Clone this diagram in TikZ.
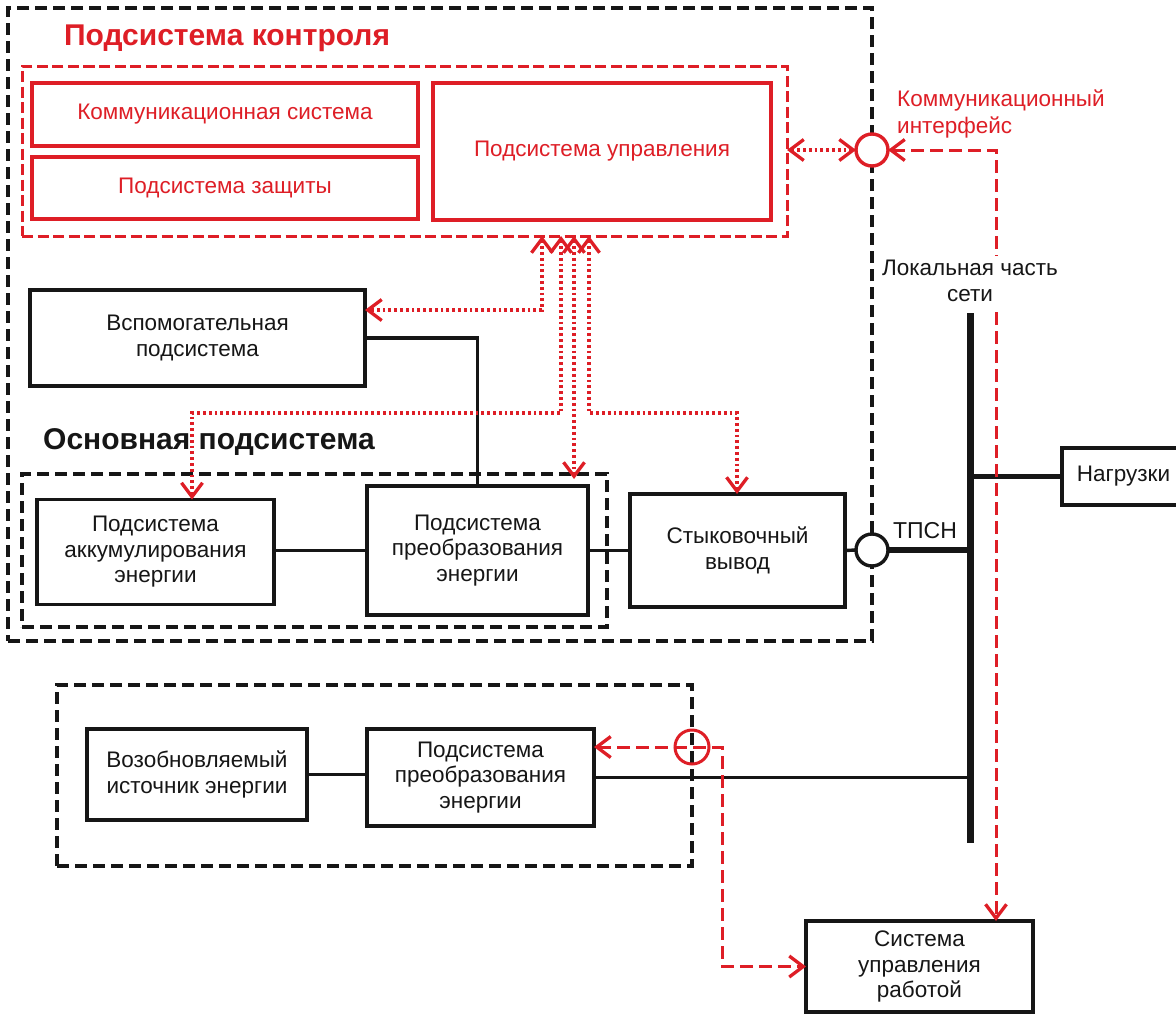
\documentclass[tikz,border=0pt]{standalone}
\usepackage{fontspec}
\setmainfont{Liberation Sans}
\usetikzlibrary{arrows.meta,calc}
\definecolor{ared}{RGB}{222,30,38}
\definecolor{ink}{RGB}{22,22,22}

\begin{document}
\begin{tikzpicture}[x=1pt,y=-1pt,
  box/.style={draw=ink,line width=3.4pt,fill=white,align=center,inner sep=0pt,outer sep=0pt,
    font=\fontsize{22.5}{25.5}\selectfont,text=ink},
  rbox/.style={draw=ared,line width=3.4pt,align=center,inner sep=0pt,outer sep=0pt,
    font=\fontsize{22.5}{25.5}\selectfont,text=ared},
  region/.style={draw=ink,line width=3.4pt,dash pattern=on 12pt off 6pt,inner sep=0pt,outer sep=0pt},
  rregion/.style={draw=ared,line width=3pt,dash pattern=on 11pt off 4.5pt,inner sep=0pt,outer sep=0pt},
  dotl/.style={draw=ared,line width=3.4pt,dash pattern=on 2.8pt off 3pt},
  dashl/.style={draw=ared,line width=3pt,dash pattern=on 13pt off 6pt},
  wire/.style={draw=ink,line width=3.4pt},
  thickwire/.style={draw=ink,line width=5.5pt},
  bus/.style={draw=ink,line width=7pt},
  barb/.tip={Straight Barb[length=14pt,width=21pt,line width=3.3pt]},
  end/.style={-barb},
  both/.style={barb-barb},
  lbl/.style={inner sep=0pt,font=\fontsize{22.5}{25.5}\selectfont,text=ink},
  head/.style={inner sep=0pt,font=\fontsize{30}{34}\selectfont\bfseries},
]
\clip (0,0) rectangle (1176,1015);
\fill[white] (0,0) rectangle (1176,1015);

% ---- dashed groupings ----
\node[region,minimum width=864pt,minimum height=633pt] (outer) at (440,324.5) {};
\node[rregion,minimum width=765pt,minimum height=170pt] (ctrl) at (404.5,151) {};
\node[region,minimum width=585pt,minimum height=153pt] (osn) at (314.5,550.5) {};
\node[region,minimum width=635pt,minimum height=181pt] (ren) at (374.5,775.5) {};

% ---- headings ----
\node[head,text=ared] (thead) at (227,38) {Подсистема контроля};
\node[head,text=ink,anchor=west] (ohead) at (43,442) {Основная подсистема};

% ---- control subsystem blocks ----
\node[rbox,minimum width=386pt,minimum height=63pt] (kom) at (225,114.5) {Коммуникационная система};
\node[rbox,minimum width=386pt,minimum height=62pt] (zash) at (225,188) {Подсистема защиты};
\node[rbox,minimum width=338pt,minimum height=137pt] (upr) at (602,151.5) {Подсистема управления};

% ---- main blocks ----
\node[box,minimum width=335pt,minimum height=96pt] (vsp) at (197.5,338) {Вспомогательная\\подсистема};
\node[box,minimum width=237pt,minimum height=105pt] (akk) at (155.5,552) {Подсистема\\аккумулирования\\энергии};
\node[box,minimum width=221pt,minimum height=129pt] (preo) at (477.5,550.5) {Подсистема\\преобразования\\энергии};
\node[box,minimum width=215pt,minimum height=113pt] (styk) at (737.5,550.5) {Стыковочный\\вывод};
\node[box,minimum width=123pt,minimum height=57pt] (nag) at (1123.5,476.5) {Нагрузки};
\node[box,minimum width=220pt,minimum height=91pt] (voz) at (197,774.5) {Возобновляемый\\источник энергии};
\node[box,minimum width=227pt,minimum height=97pt] (preo2) at (480.5,777.5) {Подсистема\\преобразования\\энергии};
\node[box,minimum width=227pt,minimum height=91pt] (sys) at (919.5,966.5) {Система\\управления\\работой};

% ---- power connections ----
\coordinate (bt) at (970,313);
\coordinate (bb) at (970,843);
\draw[bus] (bt) -- (bb);
\draw[wire] (vsp.east) -| (preo.north);
\draw[wire] (akk.east |- preo.west) -- (preo.west);
\draw[wire] (preo.east) -- (preo.east -| styk.west);
\draw[wire] (voz.east) -- (voz.east -| preo2.west);
\draw[wire] (preo2.east) -- (preo2.east -| bt);
\node[circle,draw=ink,line width=3.4pt,fill=white,minimum size=32pt,inner sep=0pt,outer sep=0pt] (tpsn) at (872,550) {};
\draw[wire] (styk.east) -- (tpsn.west);
\draw[thickwire] (tpsn.east) -- (tpsn.east -| bt);
\draw[thickwire] (nag.west -| bt) -- (nag.west);
\node[lbl,font=\fontsize{23}{27}\selectfont] (tpsnl) at (925,531) {ТПСН};

% ---- control links from the control subsystem ----
\draw[dotl,both] (ctrl.south -| 542,0) -- (542,310) -- (vsp.east |- 0,310);
\draw[dotl,both] (ctrl.south -| 561,0) -- (561,413) -- (192,413) -- (akk.north -| 192,0);
\draw[dotl,both] (ctrl.south -| 574,0) -- (574,479);
\draw[dotl,both] (ctrl.south -| 589,0) -- (589,413) -- (737,413) -- (styk.north -| 737,0);

% ---- communication interface ----
\node[circle,draw=ared,line width=3.4pt,fill=white,minimum size=32pt,inner sep=0pt,outer sep=0pt] (ci) at (872,150) {};
\node[inner sep=0pt,anchor=west,align=left,text=ared,font=\fontsize{22.5}{26.5}\selectfont] (cil) at (897,114) {Коммуникационный\\интерфейс};
\draw[dotl,both] (ctrl.east |- ci) -- (ci.west);
\coordinate (cr) at (996,150);
\draw[dashl,both] (ci.east) -- (cr) -- (cr |- sys.north);
\node[lbl,fill=white,inner sep=4pt,align=center] (lan) at (970,281) {Локальная часть\\сети};

% ---- renewable source interface ----
\node[circle,draw=ared,line width=3pt,minimum size=34pt,inner sep=0pt,outer sep=0pt] (rc) at (692,747) {};
\coordinate (br) at (722,747);
\draw[dashl,both] (preo2.east |- br) -- (br) |- (sys.west);
\end{tikzpicture}
\end{document}
